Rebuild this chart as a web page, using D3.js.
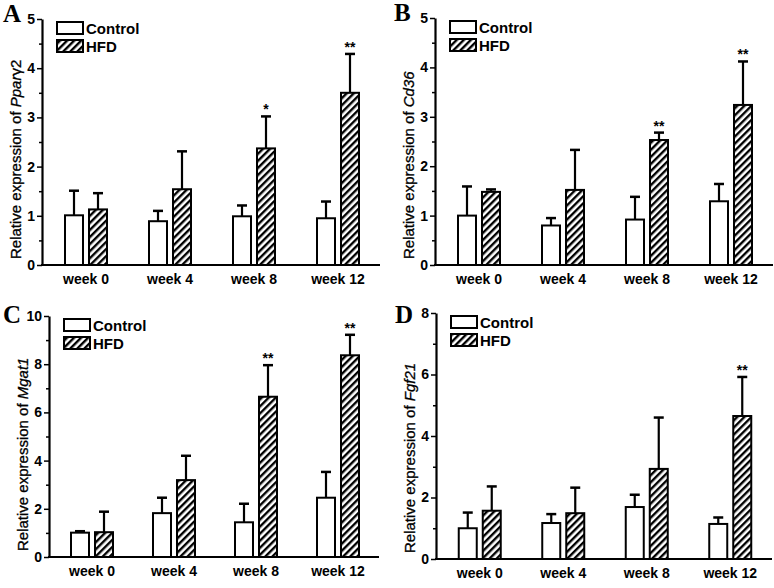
<!DOCTYPE html>
<html>
<head>
<meta charset="utf-8">
<script src="https://cdn.jsdelivr.net/npm/d3@7"></script>
<style>
  body { margin: 0; background: #fff; }
  text { font-family: "Liberation Sans", Arial, sans-serif; }
</style>
</head>
<body>
<script>
// categories and groups
var weeks = ["week 0", "week 4", "week 8", "week 12"];
var groups = ["Control", "HFD"];

// A - Ppar gamma 2
var pparControl = [1.01, 0.89, 0.99, 0.95];
var pparControlSd = [0.50, 0.21, 0.22, 0.34];
var pparHfd = [1.13, 1.54, 2.37, 3.50];
var pparHfdSd = [0.33, 0.77, 0.65, 0.79];
var pparSig = ["", "", "*", "**"];

// B - Cd36
var cd36Control = [1.00, 0.80, 0.92, 1.29];
var cd36ControlSd = [0.59, 0.15, 0.46, 0.35];
var cd36Hfd = [1.48, 1.52, 2.53, 3.24];
var cd36HfdSd = [0.05, 0.81, 0.15, 0.88];
var cd36Sig = ["", "", "**", "**"];

// C - Mgat1
var mgatControl = [1.01, 1.82, 1.44, 2.46];
var mgatControlSd = [0.06, 0.64, 0.77, 1.07];
var mgatHfd = [1.03, 3.19, 6.65, 8.37];
var mgatHfdSd = [0.85, 1.01, 1.31, 0.85];
var mgatSig = ["", "", "**", "**"];

// D - Fgf21
var fgfControl = [1.00, 1.17, 1.69, 1.14];
var fgfControlSd = [0.51, 0.29, 0.40, 0.21];
var fgfHfd = [1.57, 1.49, 2.93, 4.65];
var fgfHfdSd = [0.79, 0.83, 1.67, 1.27];
var fgfSig = ["", "", "", "**"];

var svg = d3.select("body").append("svg")
  .attr("width", 774).attr("height", 588);

// hatch for HFD bars
svg.append("defs").append("pattern")
  .attr("id", "hatch")
  .attr("patternUnits", "userSpaceOnUse")
  .attr("width", 5).attr("height", 5)
  .attr("patternTransform", "rotate(45)")
  .call(function (p) {
    p.append("rect").attr("width", 5).attr("height", 5).attr("fill", "#fff");
    p.append("line").attr("x1", 1.2).attr("y1", 0).attr("x2", 1.2).attr("y2", 5)
      .attr("stroke", "#000").attr("stroke-width", 2.4);
  });

function drawPanel(o) {
  var g = svg.append("g");
  var y = d3.scaleLinear().domain([0, o.max]).range([o.y0, o.yTop]);
  var x = d3.scaleBand().domain(weeks).range([o.x0 + 2, o.x1]);
  var sub = d3.scaleOrdinal().domain(groups).range([-12, 12]);

  var rows = [];
  weeks.forEach(function (w, i) {
    rows.push({week: w, grp: "Control", v: o.ctl[i], sd: o.ctlSd[i], sig: ""});
    rows.push({week: w, grp: "HFD", v: o.hfd[i], sd: o.hfdSd[i], sig: o.sig[i]});
  });

  // error bars (upper only)
  rows.forEach(function (d) {
    var cx = x(d.week) + x.bandwidth() / 2 + sub(d.grp);
    g.append("line").attr("x1", cx).attr("x2", cx)
      .attr("y1", y(d.v)).attr("y2", y(d.v + d.sd))
      .attr("stroke", "#000").attr("stroke-width", 2.2);
    g.append("line").attr("x1", cx - 5).attr("x2", cx + 5)
      .attr("y1", y(d.v + d.sd)).attr("y2", y(d.v + d.sd))
      .attr("stroke", "#000").attr("stroke-width", 2.5);
    if (d.sig) {
      g.append("text").attr("x", cx).attr("y", y(d.v + d.sd) - 2)
        .attr("text-anchor", "middle").style("font-size", "14px")
        .style("font-weight", "bold").text(d.sig);
    }
  });

  g.selectAll("rect.bar").data(rows).enter().append("rect")
    .attr("class", "bar")
    .attr("x", function (d) { return x(d.week) + x.bandwidth() / 2 + sub(d.grp) - 9; })
    .attr("width", 18)
    .attr("y", function (d) { return y(d.v); })
    .attr("height", function (d) { return o.y0 - y(d.v); })
    .attr("fill", function (d) { return d.grp === "HFD" ? "url(#hatch)" : "#fff"; })
    .attr("stroke", "#000").attr("stroke-width", 2);

  // y axis with minor ticks
  var minor = d3.range(o.step / 2, o.max, o.step);
  g.append("g").attr("transform", "translate(" + o.x0 + ",0)")
    .call(d3.axisLeft(y).tickValues(minor).tickSize(3).tickFormat(""))
    .call(function (a) { a.select(".domain").remove(); a.selectAll("line").attr("stroke-width", 1.5); });
  var ya = g.append("g").attr("transform", "translate(" + o.x0 + ",0)")
    .call(d3.axisLeft(y).tickValues(d3.range(0, o.max + 0.001, o.step))
      .tickSize(5).tickSizeOuter(0).tickPadding(2).tickFormat(d3.format("d")));
  ya.select(".domain").attr("stroke-width", 2.2);
  ya.selectAll("line").attr("stroke-width", 1.5);
  ya.selectAll("text").style("font-size", "14px").style("font-weight", "bold")
    .style("font-family", "Liberation Sans, Arial, sans-serif");

  // x axis line and labels
  g.append("line").attr("x1", o.x0 - 1).attr("x2", o.x1)
    .attr("y1", o.y0).attr("y2", o.y0)
    .attr("stroke", "#000").attr("stroke-width", 2.2);
  var xa = g.append("g").attr("transform", "translate(0," + o.y0 + ")")
    .call(d3.axisBottom(x).tickSize(0).tickPadding(9));
  xa.select(".domain").remove();
  xa.selectAll("text").style("font-size", "14px").style("font-weight", "bold")
    .style("font-family", "Liberation Sans, Arial, sans-serif");

  // y title
  var t = g.append("text")
    .attr("transform", "translate(" + (o.x0 - 21) + "," + (o.y0 - 6) + ") rotate(-90)")
    .style("font-size", "15px").style("stroke", "#000").style("stroke-width", 0.3);
  t.append("tspan").text("Relative expression of ");
  t.append("tspan").style("font-style", "italic").text(o.gene);
  if (o.gene2) t.append("tspan").text(o.gene2);

  // legend
  groups.forEach(function (s, i) {
    var ly = o.yTop + 3 + i * 18;
    g.append("rect").attr("x", o.x0 + 15).attr("y", ly).attr("width", 26).attr("height", 12)
      .attr("fill", s === "HFD" ? "url(#hatch)" : "#fff")
      .attr("stroke", "#000").attr("stroke-width", 2);
    g.append("text").attr("x", o.x0 + 44).attr("y", ly + 11.5)
      .style("font-size", "15px").style("font-weight", "bold").text(s);
  });

  // panel letter
  g.append("text").attr("x", o.lx).attr("y", o.ly)
    .style("font-family", "Liberation Serif, Times New Roman, serif")
    .style("font-size", "25px").style("font-weight", "bold").text(o.letter);
}

drawPanel({letter: "A", lx: 3, ly: 22, x0: 42, x1: 380, y0: 265, yTop: 19, max: 5, step: 1,
  ctl: pparControl, ctlSd: pparControlSd, hfd: pparHfd, hfdSd: pparHfdSd, sig: pparSig,
  gene: "Ppar", gene2: "\u03b32"});
drawPanel({letter: "B", lx: 394, ly: 21, x0: 435, x1: 773, y0: 265, yTop: 18, max: 5, step: 1,
  ctl: cd36Control, ctlSd: cd36ControlSd, hfd: cd36Hfd, hfdSd: cd36HfdSd, sig: cd36Sig,
  gene: "Cd36"});
drawPanel({letter: "C", lx: 3, ly: 323, x0: 49, x1: 379, y0: 557, yTop: 316, max: 10, step: 2,
  ctl: mgatControl, ctlSd: mgatControlSd, hfd: mgatHfd, hfdSd: mgatHfdSd, sig: mgatSig,
  gene: "Mgat1"});
drawPanel({letter: "D", lx: 395, ly: 323, x0: 436, x1: 772, y0: 559, yTop: 313, max: 8, step: 2,
  ctl: fgfControl, ctlSd: fgfControlSd, hfd: fgfHfd, hfdSd: fgfHfdSd, sig: fgfSig,
  gene: "Fgf21"});
</script>
</body>
</html>
